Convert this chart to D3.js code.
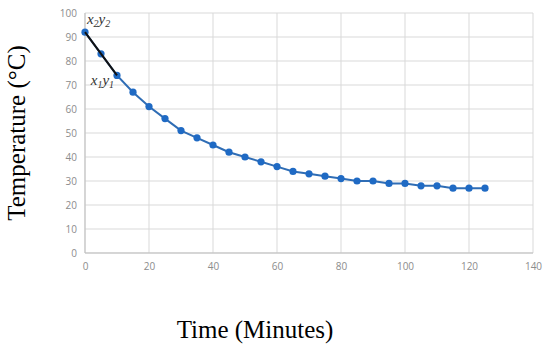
<!DOCTYPE html>
<html><head><meta charset="utf-8">
<script src="https://cdn.jsdelivr.net/npm/d3@7"></script>
<style>body{margin:0;background:#fff}svg{display:block}</style>
</head><body>
<script>
const times = [0,5,10,15,20,25,30,35,40,45,50,55,60,65,70,75,80,85,90,95,100,105,110,115,120,125];
const temps = [92,83,74,67,61,56,51,48,45,42,40,38,36,34,33,32,31,30,30,29,29,28,28,27,27,27];
const xTicks = [0,20,40,60,80,100,120,140];
const yTicks = [0,10,20,30,40,50,60,70,80,90,100];
const tangent = [[0,92],[10,74]];

const W=550,H=348;
const m={left:85,right:17,top:13,bottom:95};
const svg=d3.select("body").append("svg").attr("width",W).attr("height",H);
const x=d3.scaleLinear().domain([0,140]).range([m.left,W-m.right]);
const y=d3.scaleLinear().domain([0,100]).range([H-m.bottom,m.top]);

const g=svg.append("g");
g.selectAll(".gy").data(yTicks).join("line")
 .attr("x1",x(0)).attr("x2",x(140)).attr("y1",d=>y(d)).attr("y2",d=>y(d))
 .attr("stroke","#d9d9d9").attr("stroke-width",1);
g.selectAll(".gx").data(xTicks).join("line")
 .attr("y1",y(0)).attr("y2",y(100)).attr("x1",d=>x(d)).attr("x2",d=>x(d))
 .attr("stroke","#d9d9d9").attr("stroke-width",1);

const yAxis=d3.axisLeft(y).tickValues(yTicks).tickSize(0).tickPadding(8);
const xAxis=d3.axisBottom(x).tickValues(xTicks).tickSize(0).tickPadding(10);
const ya=svg.append("g").attr("transform",`translate(${x(0)},0)`).call(yAxis);
const xa=svg.append("g").attr("transform",`translate(0,${y(0)})`).call(xAxis);
[ya,xa].forEach(a=>{a.select(".domain").remove();
 a.selectAll("text").attr("fill","#8c8c8c").style("font-family","'Open Sans',sans-serif").style("font-size","10px");});
svg.append("line").attr("x1",x(0)).attr("x2",x(0)).attr("y1",y(0)).attr("y2",y(100)).attr("stroke","#bfbfbf");
svg.append("line").attr("x1",x(0)).attr("x2",x(140)).attr("y1",y(0)).attr("y2",y(0)).attr("stroke","#bfbfbf");

const data=times.map((t,i)=>({t,v:temps[i]}));
const line=d3.line().x(d=>x(d.t)).y(d=>y(d.v));
svg.append("path").datum(data).attr("d",line).attr("fill","none").attr("stroke","#2f6db5").attr("stroke-width",2);
svg.selectAll(".pt").data(data).join("circle")
 .attr("cx",d=>x(d.t)).attr("cy",d=>y(d.v)).attr("r",3.6).attr("fill","#1f6ac4");
svg.append("path").datum(tangent).attr("d",d3.line().x(d=>x(d[0])).y(d=>y(d[1])))
 .attr("stroke","#111").attr("stroke-width",2).attr("fill","none");

function lbl(px,py,b){
 const t=svg.append("text").attr("x",px).attr("y",py)
  .style("font-family","'Liberation Serif','Times New Roman',serif").style("font-style","italic").style("font-size","15px").attr("fill","#333");
 t.append("tspan").text("x");
 t.append("tspan").attr("dy",3).style("font-size","10px").text(b);
 t.append("tspan").attr("dy",-3).text("y");
 t.append("tspan").attr("dy",3).style("font-size","10px").text(b);
}
lbl(x(0.6),y(95.5),"2");
lbl(x(1.8),y(70),"1");

svg.append("text").attr("transform",`translate(25,${(y(0)+y(100))/2}) rotate(-90)`)
 .attr("text-anchor","middle").style("font-family","'Liberation Serif','Times New Roman',serif")
 .style("font-size","25px").attr("fill","#000").text("Temperature (°C)");
svg.append("text").attr("x",255).attr("y",338).attr("text-anchor","middle")
 .style("font-family","'Liberation Serif','Times New Roman',serif")
 .style("font-size","25px").attr("fill","#000").text("Time (Minutes)");
</script>
</body></html>
